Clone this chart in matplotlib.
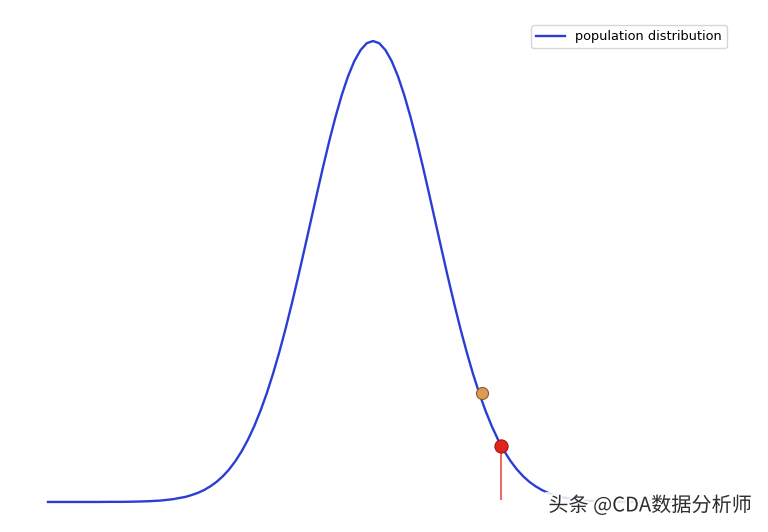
import matplotlib
matplotlib.use("Agg")
import matplotlib.pyplot as plt
import matplotlib.patheffects as pe

# standardized x positions and density
x = [-5.2, -5.0, -4.8, -4.6, -4.4, -4.2, -4.0, -3.8, -3.6, -3.4, -3.2,
     -3.0, -2.9, -2.8, -2.7, -2.6, -2.5, -2.4, -2.3, -2.2, -2.1,
     -2.0, -1.9, -1.8, -1.7, -1.6, -1.5, -1.4, -1.3, -1.2, -1.1,
     -1.0, -0.9, -0.8, -0.7, -0.6, -0.5, -0.4, -0.3, -0.2, -0.1,
     0.0, 0.1, 0.2, 0.3, 0.4, 0.5, 0.6, 0.7, 0.8, 0.9,
     1.0, 1.1, 1.2, 1.3, 1.4, 1.5, 1.6, 1.7, 1.8, 1.9,
     2.0, 2.1, 2.2, 2.3, 2.4, 2.5, 2.6, 2.7, 2.8, 2.9, 3.0,
     3.2, 3.4, 3.6, 3.8, 4.0, 4.2, 4.4, 4.6, 4.8, 5.0, 5.2]
density = [0.0, 0.0, 0.0, 0.0, 0.0, 0.0001, 0.0001, 0.0003, 0.0006, 0.0012, 0.0024,
           0.0044, 0.0060, 0.0079, 0.0104, 0.0136, 0.0175, 0.0224, 0.0283, 0.0355, 0.0440,
           0.0540, 0.0656, 0.0790, 0.0940, 0.1109, 0.1295, 0.1497, 0.1714, 0.1942, 0.2179,
           0.2420, 0.2661, 0.2897, 0.3123, 0.3332, 0.3521, 0.3683, 0.3814, 0.3910, 0.3970,
           0.3989, 0.3970, 0.3910, 0.3814, 0.3683, 0.3521, 0.3332, 0.3123, 0.2897, 0.2661,
           0.2420, 0.2179, 0.1942, 0.1714, 0.1497, 0.1295, 0.1109, 0.0940, 0.0790, 0.0656,
           0.0540, 0.0440, 0.0355, 0.0283, 0.0224, 0.0175, 0.0136, 0.0104, 0.0079, 0.0060, 0.0044,
           0.0024, 0.0012, 0.0006, 0.0003, 0.0001, 0.0001, 0.0, 0.0, 0.0, 0.0, 0.0]

sample_x, sample_y = 1.74, 0.094   # orange point on the curve
crit_x, crit_y = 2.05, 0.048       # red point with drop line

fig = plt.figure(figsize=(7.68, 5.32), dpi=100)
ax = fig.add_axes([0, 0, 1, 1])

ax.plot(x, density, color="#2a3ed6", lw=1.7, label="population distribution")
ax.vlines(crit_x, 0.0015, crit_y, color="#ea3f36", lw=1.1)
ax.scatter([sample_x], [sample_y], s=75, color="#dc9a55", edgecolor="#8a5a2a",
           linewidth=0.8, zorder=5)
ax.scatter([crit_x], [crit_y], s=90, color="#e0261a", edgecolor="#a01810",
           linewidth=0.8, zorder=5)

ax.set_xlim(-5.968, 6.32)
ax.set_ylim(-0.026, 0.4344)
ax.axis("off")

ax.legend(loc="upper right", bbox_to_anchor=(727 / 768, 1 - 25 / 532),
          borderaxespad=0, fontsize=9.3, handlelength=2.2)

# watermark band hides the end of the tail
fig.text(0.714, 0.049, "头条 @CDA数据分析师", fontsize=14.5, color="#2e2e2e",
         va="center", family=["Noto Sans CJK SC", "DejaVu Sans"],
         bbox=dict(facecolor="white", edgecolor="none", alpha=0.85,
                   boxstyle="square,pad=0.15"),
         path_effects=[pe.withStroke(linewidth=2.5, foreground="white")],
         zorder=10)

plt.savefig("out.png", dpi=100)
plt.close()
